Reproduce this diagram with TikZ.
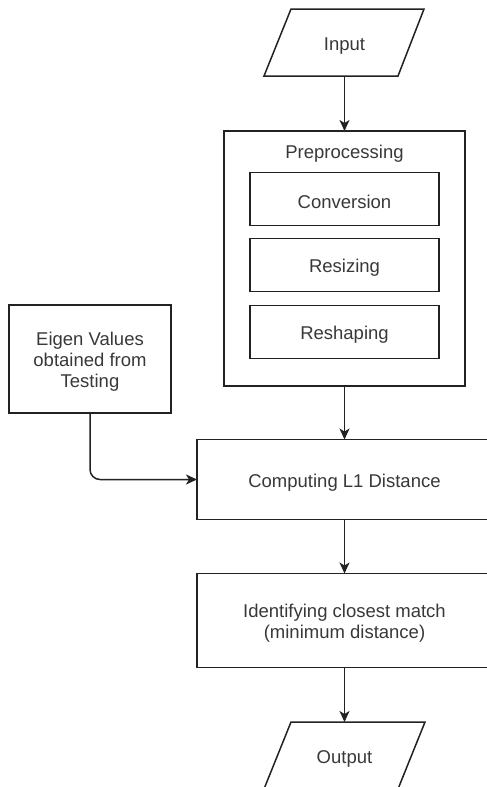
\documentclass[tikz,border=0pt]{standalone}
\usepackage{fontspec}
\setmainfont{Liberation Sans}
\usetikzlibrary{arrows.meta}
\definecolor{ln}{HTML}{222222}
\definecolor{tx}{HTML}{383838}
\newcommand{\lowerstrut}{\rule{0pt}{19.5pt}}
\begin{document}
\begin{tikzpicture}[x=1pt,y=-1pt,
  box/.style={draw=ln, line width=1.5pt, inner sep=0pt, outer sep=0pt, text=tx, font=\fontsize{18.5}{21}\selectfont, align=center},
  lbl/.style={inner sep=0pt, outer sep=0pt, text=tx, font=\fontsize{18.5}{21}\selectfont, align=center},
  shp/.style={draw=ln, line width=1.5pt, line join=miter},
  arr/.style={draw=ln, line width=1.5pt, -{Stealth[length=11pt,width=10pt,inset=3pt]}},
]
\useasboundingbox (0,0) rectangle (487,787);
\clip (0,0) rectangle (487,787);
% Input
\node[lbl, minimum height=67pt] (in) at (344.5,42.5) {\lowerstrut Input};
\draw[shp] (291,9) -- (424,9) -- (398,76) -- (264,76) -- cycle;
% Preprocessing group
\node[box, minimum width=241pt, minimum height=255pt] (pre) at (344.5,258.5) {};
\node[lbl] (prel) at (344.5,151) {\lowerstrut Preprocessing};
\node[box, minimum width=189pt, minimum height=53pt] (conv) at (344.5,199) {\lowerstrut Conversion};
\node[box, minimum width=189pt, minimum height=53pt] (res) at (344.5,265) {\lowerstrut Resizing};
\node[box, minimum width=189pt, minimum height=53pt] (resh) at (344.5,332) {\lowerstrut Reshaping};
% Eigen values
\node[box, minimum width=162pt, minimum height=108pt] (eig) at (90,359) {\lowerstrut Eigen Values\\obtained from\\Testing};
% Computing
\node[box, minimum width=295pt, minimum height=80pt] (comp) at (344.5,479.5) {\lowerstrut Computing L1 Distance};
% Identifying
\node[box, minimum width=295pt, minimum height=94pt] (idm) at (344.5,620.5) {\lowerstrut Identifying closest match\\(minimum distance)};
% Output
\node[lbl, minimum height=67pt] (out) at (344.5,755.5) {\lowerstrut Output};
\draw[shp] (291,722) -- (425,722) -- (398,789) -- (264,789) -- cycle;
% connectors
\draw[arr] (in.south) -- (pre.north);
\draw[arr] (pre.south) -- (comp.north);
\draw[arr, rounded corners=10pt] (eig.south) |- (comp.west);
\draw[arr] (comp.south) -- (idm.north);
\draw[arr] (idm.south) -- (out.north);
\end{tikzpicture}
\end{document}
